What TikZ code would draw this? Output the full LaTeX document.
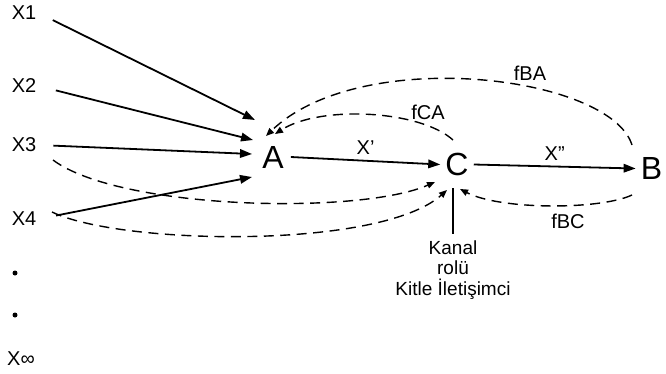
\documentclass[tikz,border=0pt]{standalone}
\usepackage{fontspec}
\setmainfont{Liberation Sans}
\usetikzlibrary{arrows.meta}
\begin{document}
\begin{tikzpicture}[x=1pt,y=-1pt,
  lbl/.style={font=\fontsize{20}{23}\selectfont, inner sep=2pt},
  blk/.style={font=\fontsize{19}{20.5}\selectfont, inner sep=2pt, align=center},
  big/.style={font=\fontsize{32}{34}\selectfont, inner sep=5pt},
  flow/.style={line width=1.8pt, -{Triangle[length=12pt,width=8.5pt]}},
  fb/.style={line width=1.4pt, dash pattern=on 10pt off 6.5pt, -{Triangle[length=8pt,width=6.5pt]}},
  dot/.style={circle, fill=black, inner sep=0pt, minimum size=5pt}
]
\useasboundingbox (0,0) rectangle (666,373);

% source labels
\node[lbl] (X1) at (24,13) {X1};
\node[lbl] (X2) at (24,86) {X2};
\node[lbl] (X3) at (24,145) {X3};
\node[lbl] (X4) at (24,219) {X4};
\node[dot] (d1) at (15,273) {};
\node[dot] (d2) at (15,315) {};
\node[lbl] (Xinf) at (21,359) {X∞};

% main nodes
\node[big, inner sep=7pt] (A) at (273,157) {A};
\node[big] (C) at (457,164.5) {C};
\node[big] (B) at (651.5,168.5) {B};

% attachment points
\coordinate (a1) at (255,120);
\coordinate (a2) at (253,140);
\coordinate (a3) at (252,154);
\coordinate (a4) at (252,177);
\coordinate (aBA) at (266,136);
\coordinate (aCA) at (275,134);
\coordinate (bBA) at (632,145);
\coordinate (bBC) at (632,195);
\coordinate (cCA) at (453,140);
\coordinate (c3) at (435,182);
\coordinate (c4) at (447,190);
\coordinate (cBC) at (460,189);
\coordinate (s3) at (53,160);
\coordinate (s4) at (52,212);

% solid arrows
\draw[flow, shorten <=16pt] (X1.east) -- (a1);
\draw[flow, shorten <=18pt] (X2.east) -- (a2);
\draw[flow, shorten <=15pt] (X3.east) -- (a3);
\draw[flow, shorten <=18pt] (X4.east) -- (a4);
\draw[flow] (A.east) -- node[lbl, above=3pt] (xp) {X’} (C.west);
\draw[flow] (C.east) -- node[lbl, above=3pt] (xpp) {X”} (B.west);

% dashed feedback arrows
\draw[fb] (bBA) .. controls (610,75) and (360,45) .. (aBA);
\draw[fb] (cCA) .. controls (420,110) and (320,105) .. (aCA);
\draw[fb] (s3) .. controls (120,210) and (360,215) .. (c3);
\draw[fb] (s4) .. controls (120,245) and (380,250) .. (c4);
\draw[fb] (bBC) .. controls (600,210) and (500,210) .. (cBC);

% feedback labels
\node[lbl] (fBA) at (530,73) {fBA};
\node[lbl] (fCA) at (428,112) {fCA};
\node[lbl] (fBC) at (568,221) {fBC};

% channel role
\node[blk] (K) at (453,270) {Kanal\\rolü\\Kitle İletişimci};
\draw[line width=1.8pt, shorten <=7pt, shorten >=4pt] (K.north |- C.south) -- (K.north);
\end{tikzpicture}
\end{document}
